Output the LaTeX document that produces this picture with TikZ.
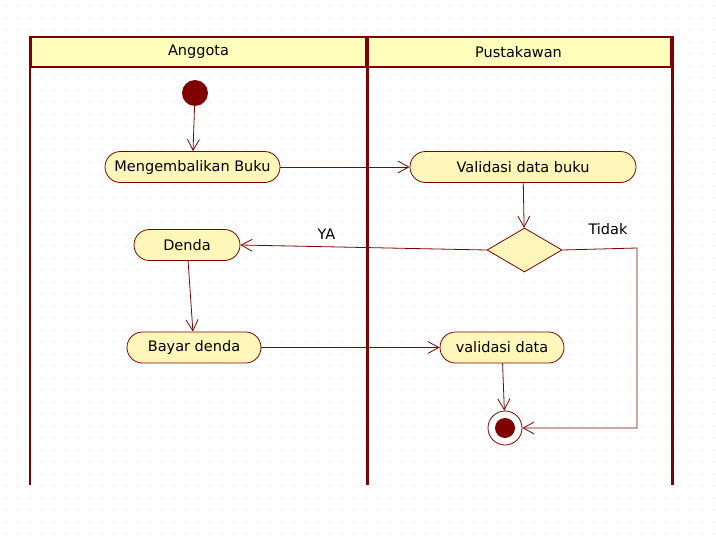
\documentclass[tikz,border=0pt]{standalone}
\usepackage{fontspec}
\setmainfont{DejaVu Sans}
\usepackage{tikz}
\usetikzlibrary{shapes,arrows.meta}

\definecolor{lanered}{RGB}{128,0,0}
\definecolor{headyellow}{RGB}{255,255,187}
\definecolor{actyellow}{RGB}{255,247,185}

\begin{document}
\begin{tikzpicture}[x=1pt,y=-1pt,font=\fontsize{14.5}{17}\selectfont]
        % Styles for lanes, activities and flows
        \tikzstyle{lanehead}=[draw=lanered, fill=headyellow, line width=2.5pt, minimum height=30pt, inner sep=0pt];
        \tikzstyle{activity}=[draw=lanered, fill=actyellow, line width=0.8pt, rounded corners=15.5pt, minimum height=31pt, inner sep=0pt];
        \tikzstyle{decision}=[diamond, draw=lanered, fill=actyellow, line width=0.8pt, minimum width=75pt, minimum height=44pt, inner sep=0pt];
        \tikzstyle{flow}=[draw=lanered, line width=0.8pt, -{Straight Barb[length=11pt,width=12pt,line width=0.8pt]}];

        \useasboundingbox (0,0) rectangle (716,541);

        % Dotted grid in the background
        \foreach \gx in {6,18,...,714}
            \foreach \gy in {6,18,...,538}
                \fill[gray!45] (\gx,\gy) circle (0.6pt);

        % Swimlane headers
        \node[lanehead, minimum width=335pt] (anggota) at (198.5,52) {Anggota};
        \node[lanehead, minimum width=305pt] (pustakawan) at (518.5,52) {Pustakawan};

        % Swimlane borders
        \draw[lanered, line width=2.5pt] (anggota.north west) -- (anggota.north west |- 0,485);
        \draw[lanered, line width=3.5pt] (anggota.north east) -- (anggota.north east |- 0,485);
        \draw[lanered, line width=2.5pt] (pustakawan.north east) -- (pustakawan.north east |- 0,485);

        % Start and end nodes
        \node[circle, fill=lanered, minimum size=26pt, inner sep=0pt] (start) at (195,93) {};
        \node[circle, draw=lanered, fill=white, line width=0.8pt, minimum size=34pt, inner sep=0pt] (final) at (505,428) {};
        \fill[lanered] (final.center) circle (10pt);

        % Activities
        \node[activity, minimum width=175pt] (kembali) at (192.5,167) {Mengembalikan Buku};
        \node[activity, minimum width=226pt] (validbuku) at (523,167) {Validasi data buku};
        \node[decision] (cek) at (524.5,250) {};
        \node[activity, minimum width=106pt] (denda) at (187,245) {Denda};
        \node[activity, minimum width=134pt] (bayar) at (194,347.5) {Bayar denda};
        \node[activity, minimum width=124pt] (validdata) at (502,347.5) {validasi data};

        % Flows
        \draw[flow] (start) -- (kembali);
        \draw[flow] (kembali) -- (validbuku);
        \draw[flow] (validbuku) -- (cek);
        \draw[flow] (cek.west) -- node[above, pos=0.65, yshift=4pt] {YA} (denda.east);
        \coordinate (belok) at (637,248);
        \draw[flow] (cek.east) -- (belok) |- (final);
        \node (tidak) at (608,229) {Tidak};
        \draw[flow] (denda) -- (bayar);
        \draw[flow] (bayar) -- (validdata);
        \draw[flow] (validdata) -- (final);

    \end{tikzpicture}
\end{document}
